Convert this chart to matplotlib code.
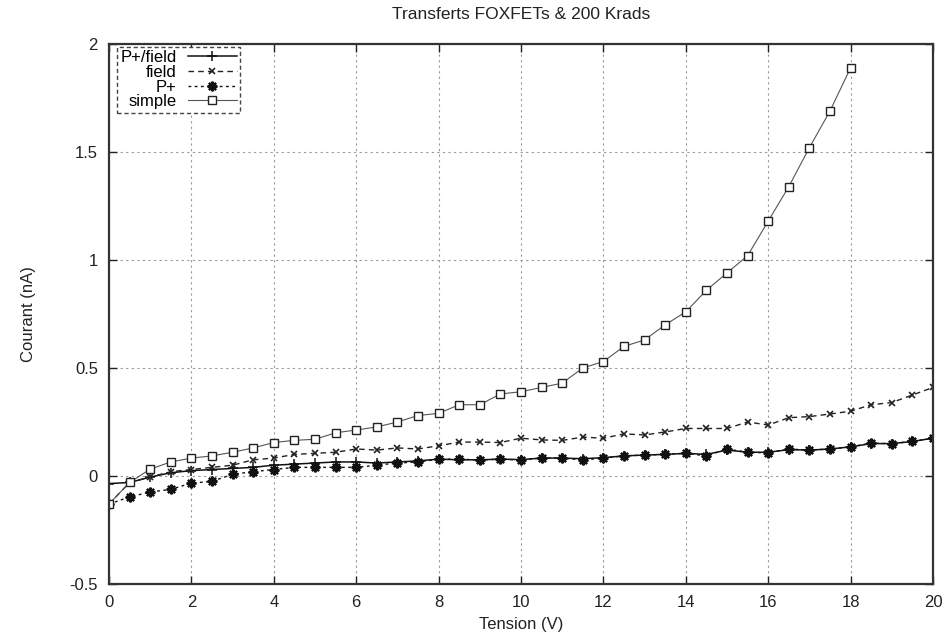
import matplotlib
matplotlib.use("Agg")
import matplotlib.pyplot as plt
import numpy as np

plt.rcParams['font.family'] = ['Liberation Sans', 'DejaVu Sans']
plt.rcParams['axes.unicode_minus'] = False

# tension (V), step 0.5
v_full = np.arange(0, 20.01, 0.5)
v_simple = np.arange(0, 18.01, 0.5)

# courant (nA)
i_pfield = [-0.035, -0.03, -0.005, 0.015, 0.025, 0.03, 0.035, 0.04, 0.05, 0.055,
            0.06, 0.065, 0.065, 0.06, 0.065, 0.07, 0.078, 0.075, 0.075, 0.078,
            0.076, 0.083, 0.083, 0.08, 0.085, 0.093, 0.097, 0.10, 0.105, 0.10,
            0.12, 0.11, 0.11, 0.122, 0.12, 0.125, 0.135, 0.15, 0.15, 0.16, 0.175]
i_field = [-0.13, -0.03, -0.005, 0.02, 0.03, 0.04, 0.05, 0.075, 0.083, 0.10,
           0.105, 0.11, 0.125, 0.12, 0.13, 0.125, 0.14, 0.157, 0.157, 0.155,
           0.175, 0.167, 0.165, 0.18, 0.175, 0.195, 0.19, 0.204, 0.22, 0.22,
           0.22, 0.25, 0.236, 0.27, 0.275, 0.287, 0.30, 0.33, 0.34, 0.375, 0.41]
i_p = [-0.13, -0.097, -0.074, -0.062, -0.033, -0.025, 0.008, 0.02, 0.03, 0.04,
       0.04, 0.04, 0.04, 0.05, 0.06, 0.065, 0.078, 0.078, 0.074, 0.078,
       0.074, 0.083, 0.083, 0.074, 0.083, 0.093, 0.097, 0.10, 0.105, 0.093,
       0.125, 0.11, 0.107, 0.125, 0.12, 0.125, 0.135, 0.152, 0.15, 0.16, 0.175]
i_simple = [-0.13, -0.03, 0.032, 0.065, 0.083, 0.093, 0.11, 0.13, 0.155, 0.165,
            0.17, 0.20, 0.213, 0.227, 0.25, 0.28, 0.29, 0.33, 0.33, 0.38,
            0.39, 0.41, 0.43, 0.50, 0.53, 0.60, 0.63, 0.70, 0.76, 0.86,
            0.94, 1.02, 1.18, 1.34, 1.52, 1.69, 1.89]

fig = plt.figure(figsize=(9.46, 6.42), dpi=100)
ax = fig.add_axes([109/946, 1-584/642, (933-109)/946, (584-44)/642])

ax.plot(v_full, i_pfield, color='#111111', lw=1.1, ls='-',
        marker='+', ms=7, mew=1.1, label='P+/field')
ax.plot(v_full, i_field, color='#222222', lw=1.0, ls=(0, (4, 3)),
        marker='x', ms=5, mew=1.2, label='field')
ax.plot(v_full, i_p, color='#111111', lw=1.0, ls=(0, (2, 2.5)),
        marker=(8, 2, 0), ms=7, mew=1.6, label='P+')
ax.plot(v_simple, i_simple, color='#555555', lw=0.8, ls='-',
        marker='s', ms=5.5, mfc='white', mec='#222222', mew=1.0, label='simple')

ax.set_xlim(0, 20)
ax.set_ylim(-0.5, 2)
ax.set_xticks(np.arange(0, 21, 2))
ax.set_yticks(np.arange(-0.5, 2.01, 0.5))
ax.xaxis.set_major_formatter(matplotlib.ticker.FormatStrFormatter('%g'))
ax.yaxis.set_major_formatter(matplotlib.ticker.FormatStrFormatter('%g'))
ax.tick_params(direction='in', top=True, right=True, length=6, width=1,
               labelsize=12, colors='#222222', pad=8)
ax.grid(True, color='#999999', ls=(0, (2, 3)), lw=0.8)
for s in ax.spines.values():
    s.set_linewidth(1.6)
    s.set_color('#333333')

ax.set_title('Transferts FOXFETs & 200 Krads', fontsize=12.5, color='#222222', pad=18)
ax.set_xlabel('Tension (V)', fontsize=12, color='#222222', labelpad=5)
ax.set_ylabel('Courant (nA)', fontsize=12, color='#222222', labelpad=24)

leg = ax.legend(loc='upper left', bbox_to_anchor=(8/824, 1-3/540),
                markerfirst=False, fontsize=12,
                handlelength=2.9, borderaxespad=0, borderpad=0.2,
                labelspacing=-0.02, handletextpad=0.7, fancybox=False,
                framealpha=1)
leg.get_frame().set_linestyle((0, (3, 2)))
leg.get_frame().set_edgecolor('#444444')
leg.get_frame().set_linewidth(1.0)

fig.savefig('out.png', dpi=100)
